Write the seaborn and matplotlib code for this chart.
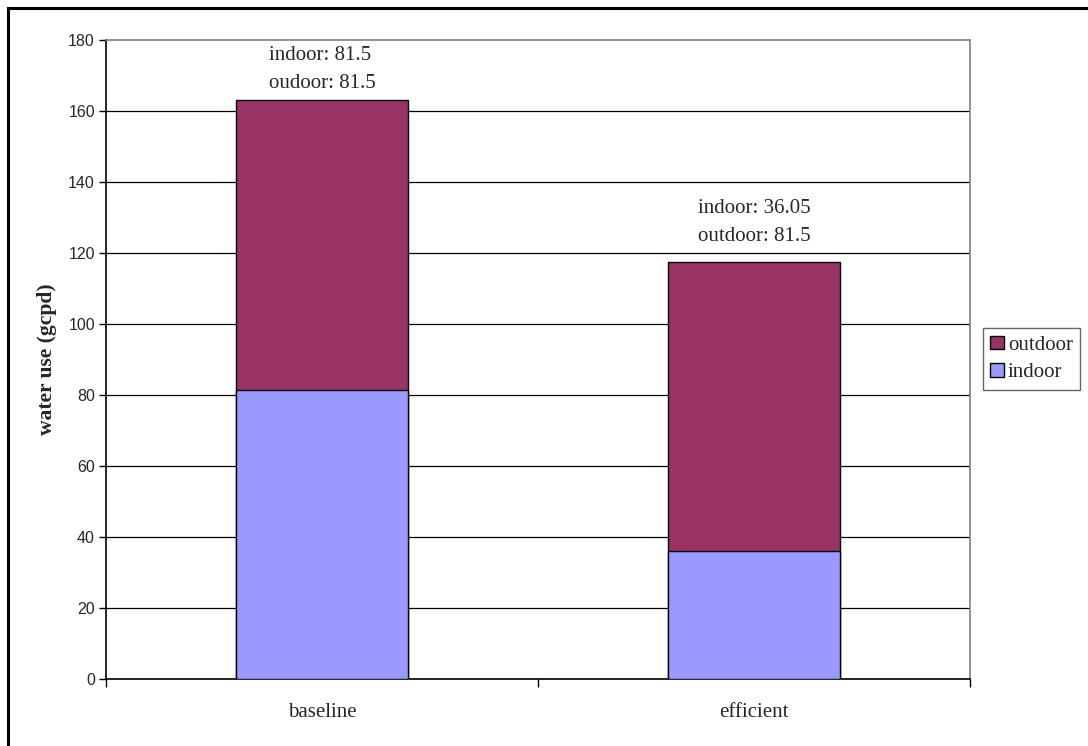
import matplotlib
matplotlib.use("Agg")
import matplotlib.pyplot as plt
from matplotlib.patches import Rectangle, Patch
import seaborn as sns
import pandas as pd

# Daily water use per person, gallons (gcpd)
categories = ["baseline", "efficient"]
indoor = [81.5, 36.05]
outdoor = [81.5, 81.5]
outdoor_names = ["oudoor", "outdoor"]
y_ticks = [0, 20, 40, 60, 80, 100, 120, 140, 160, 180]

OUTDOOR_COLOR = "#993366"
INDOOR_COLOR = "#9999FF"

sns.set_style("white")
plt.rcParams["font.family"] = ["Liberation Serif", "DejaVu Serif"]

df = pd.DataFrame({"scenario": categories, "indoor": indoor, "outdoor": outdoor})
df["total"] = df["indoor"] + df["outdoor"]

fig = plt.figure(figsize=(10.88, 7.46), dpi=100)
ax = fig.add_axes([106 / 1088, 1 - 679 / 746, 864 / 1088, 639 / 746])

# Stacked bars: full height in the outdoor colour, indoor part drawn over it
sns.barplot(data=df, x="scenario", y="total", color=OUTDOOR_COLOR, width=0.4,
            edgecolor="black", linewidth=1, saturation=1, ax=ax, zorder=3)
sns.barplot(data=df, x="scenario", y="indoor", color=INDOOR_COLOR, width=0.4,
            edgecolor="black", linewidth=1, saturation=1, ax=ax, zorder=3)

ax.set_ylim(0, 180)
ax.set_xlim(-0.5, 1.5)
ax.set_yticks(y_ticks)
ax.set_yticklabels([str(t) for t in y_ticks], family="Liberation Sans", fontsize=11.5)
ax.tick_params(axis="y", left=True, direction="out", length=5, width=1,
               color="black", pad=3)

# Category labels between boundary ticks
ax.set_xticks([-0.5, 0.5, 1.5])
ax.set_xticklabels([])
ax.tick_params(axis="x", which="major", bottom=True, direction="out", length=6,
               width=1, color="black")
ax.set_xticks([0, 1], minor=True)
ax.set_xticklabels(categories, minor=True, fontsize=15)
ax.tick_params(axis="x", which="minor", bottom=True, length=0, pad=17)
ax.set_xlabel("")

ax.yaxis.grid(True, color="black", linewidth=0.9, zorder=0)
ax.set_axisbelow(True)
ax.get_ygridlines()[-1].set_visible(False)

for side in ("top", "right"):
    ax.spines[side].set_color("#808080")
    ax.spines[side].set_linewidth(1.2)
for side in ("left", "bottom"):
    ax.spines[side].set_color("black")
    ax.spines[side].set_linewidth(1.2)

ax.set_ylabel("water use (gcpd)", fontsize=15.5, fontweight="bold")
ax.yaxis.set_label_coords(-0.057, 0.5)

# Value notes above each stack; the tall stack's note is nudged down to stay
# inside the plot area
note_gaps = [5.5, 11.5]
for i, row in df.iterrows():
    note = f"indoor: {row['indoor']:g}\n{outdoor_names[i]}: {row['outdoor']:g}"
    ax.annotate(note, xy=(i, row["total"]), xytext=(0, note_gaps[i]),
                textcoords="offset points", ha="center", va="bottom",
                multialignment="left", fontsize=15, linespacing=1.6)

handles = [Patch(facecolor=OUTDOOR_COLOR, edgecolor="black", label="outdoor"),
           Patch(facecolor=INDOOR_COLOR, edgecolor="black", label="indoor")]
leg = fig.legend(handles=handles, loc="center left",
                 bbox_to_anchor=(983 / 1088, 1 - 359 / 746), bbox_transform=fig.transFigure,
                 fontsize=15, frameon=True, fancybox=False, shadow=False,
                 handlelength=0.65, handleheight=0.65, handletextpad=0.2,
                 borderpad=0.35, labelspacing=0.4, borderaxespad=0)
leg.get_frame().set_edgecolor("#404040")
leg.get_frame().set_linewidth(1)

# Outer chart frame
fig.patches.append(Rectangle((8 / 1088, -0.1), 1.2, 0.1 + 1 - 8 / 746,
                             transform=fig.transFigure, fill=False,
                             edgecolor="black", linewidth=2.2, clip_on=False))

fig.savefig("out.png", dpi=100)
